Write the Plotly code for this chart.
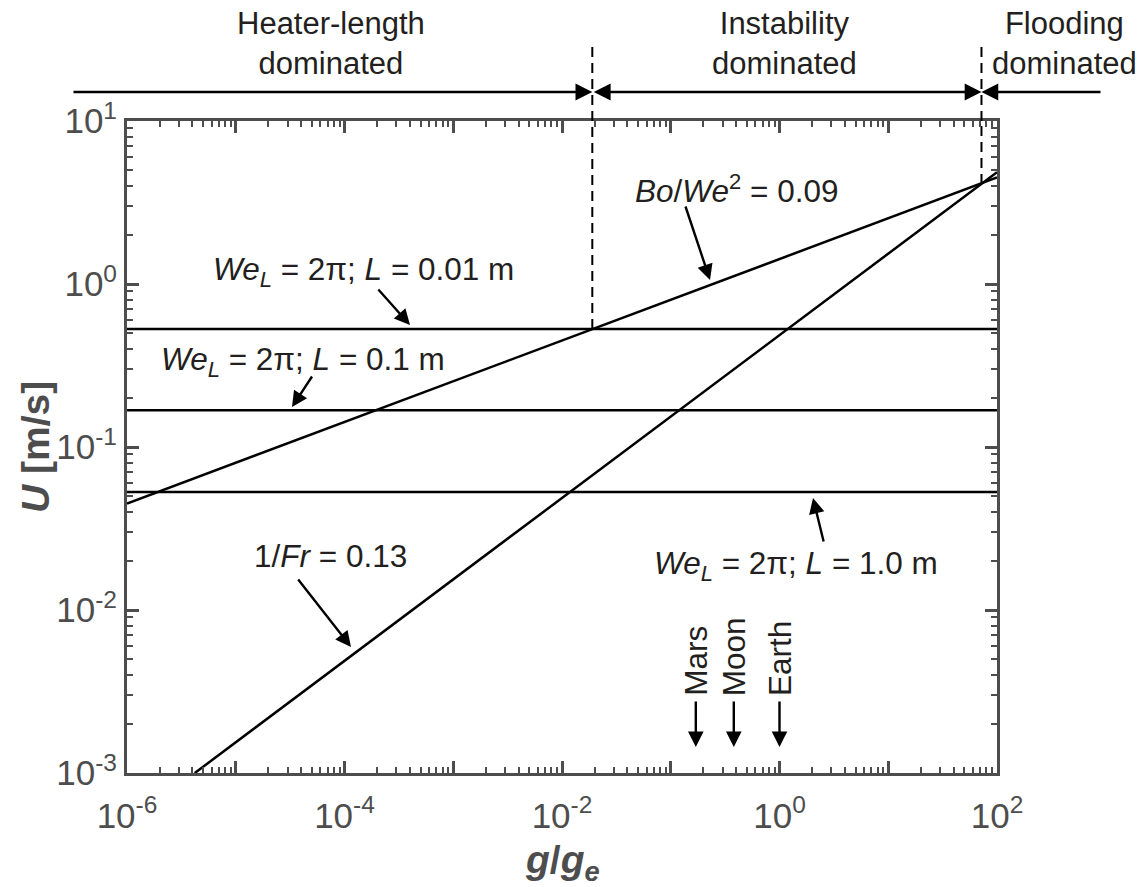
import numpy as np
import plotly.graph_objects as go

# ---------------- data ----------------
g_span = [1e-6, 1e2]                       # x extent of the horizontal lines
L_values = ["0.01", "0.1", "1.0"]           # heater length labels [m]
U_heater = [0.53, 0.168, 0.053]             # We_L = 2π lines, U [m/s]

bo_g = [1e-6, 1e2]                          # Bo/We^2 = 0.09 line
bo_U = [0.045, 4.5]

fr_g = [4.2e-6, 1e2]                        # 1/Fr = 0.13 line
fr_U = [1e-3, 4.85]

regime_g = [0.019, 72]                      # regime boundaries (dashed)
regime_U = [0.53, 4.1]                      # lower end of the dashed lines

body_names = ["Mars", "Moon", "Earth"]
body_g = [0.17, 0.38, 1.0]

x_tick_exp = [-6, -5, -4, -3, -2, -1, 0, 1, 2]
y_tick_exp = [-3, -2, -1, 0, 1]

# ---------------- style ----------------
AX = "#4d4d4d"
TXT = "#231f20"
FONT = "Liberation Sans, Arial, sans-serif"
W, H = 1142, 887
L_M, R_M, T_M, B_M = 127, 145, 121, 114
PW, PH = W - L_M - R_M, H - T_M - B_M


def px(x, y):
    """pixel position -> paper coordinates"""
    return (x - L_M) / PW, (H - B_M - y) / PH


fig = go.Figure()

line_style = dict(color="black", width=2.5)
for U in U_heater:
    fig.add_trace(go.Scatter(x=g_span, y=[U, U], mode="lines", line=line_style,
                             hoverinfo="skip", showlegend=False))
fig.add_trace(go.Scatter(x=bo_g, y=bo_U, mode="lines", line=line_style,
                         hoverinfo="skip", showlegend=False))
fig.add_trace(go.Scatter(x=fr_g, y=fr_U, mode="lines", line=line_style,
                         hoverinfo="skip", showlegend=False))

# dashed regime boundaries: inside the plot as traces, above it as shapes
for g, U in zip(regime_g, regime_U):
    fig.add_trace(go.Scatter(x=[g, g], y=[U, 10], mode="lines",
                             line=dict(color="black", width=2, dash="10px,6px"),
                             hoverinfo="skip", showlegend=False))
    fig.add_shape(type="line", xref="x", yref="paper", x0=g, x1=g,
                  y0=1, y1=px(0, 46)[1],
                  line=dict(color="black", width=2, dash="10px,6px"))

# ---------------- axes ----------------
x_minor = [k * 10.0 ** e for e in x_tick_exp[:-1] for k in range(2, 10)]
y_minor = [k * 10.0 ** e for e in y_tick_exp[:-1] for k in range(2, 10)]

axis_common = dict(
    type="log", showline=True, linewidth=3, linecolor=AX, mirror="ticks",
    ticks="inside", ticklen=12, tickwidth=2.5, tickcolor=AX,
    showgrid=False, zeroline=False,
    tickfont=dict(family=FONT, size=35, color=AX),
)

fig.update_xaxes(
    range=[-6, 2],
    tickmode="array",
    tickvals=[10.0 ** e for e in x_tick_exp],
    ticktext=[f"10<sup>{e}</sup>" if e % 2 == 0 else "" for e in x_tick_exp],
    minor=dict(tickmode="array", tickvals=x_minor, ticks="inside", ticklen=6,
               tickwidth=2, tickcolor=AX, showgrid=False),
    ticklabelstandoff=10,
    **axis_common,
)
fig.update_yaxes(
    range=[-3, 1],
    tickmode="array",
    tickvals=[10.0 ** e for e in y_tick_exp],
    ticktext=[f"10<sup>{e}</sup>" for e in y_tick_exp],
    minor=dict(tickmode="array", tickvals=y_minor, ticks="inside", ticklen=6,
               tickwidth=2, tickcolor=AX, showgrid=False),
    **axis_common,
)

ann = []
C = dict(xanchor="center", yanchor="middle")

# axis titles
x, y = px(35, 447)
ann.append(dict(xref="paper", yref="paper", x=x, y=y, showarrow=False,
                text="<b><i>U</i> [m/s]</b>", textangle=-90,
                font=dict(family=FONT, size=39, color=AX), **C))
x, y = px(562, 862)
ann.append(dict(xref="paper", yref="paper", x=x, y=y, showarrow=False,
                text="<b><i>g</i>/<i>g</i><sub><i>e</i></sub></b>",
                font=dict(family=FONT, size=39, color=AX), **C))

# regime headers
for cx, txt in [(331, "Heater-length<br>dominated"),
                (784, "Instability<br>dominated"),
                (1064, "Flooding<br>dominated")]:
    x, y = px(cx, 44)
    ann.append(dict(xref="paper", yref="paper", x=x, y=y, showarrow=False,
                    text=txt, font=dict(family=FONT, size=31, color=TXT), **C))

# regime arrows (top row)
y_arrow = px(0, 92)[1]
lg = [np.log10(v) for v in regime_g]
x_left_tail = (72 - L_M) / PW * 8 - 6
x_right_tail = (1102 - L_M) / PW * 8 - 6
arrow_common = dict(xref="x", yref="paper", axref="x", ayref="pixel", ay=0,
                    text="", showarrow=True, arrowhead=2, arrowsize=1.4,
                    arrowwidth=2.4, arrowcolor="black", standoff=0, startstandoff=0)
ann.append(dict(x=lg[0], y=y_arrow, ax=x_left_tail, **arrow_common))
ann.append(dict(x=lg[1], y=y_arrow, ax=lg[0], arrowside="end+start",
                startarrowhead=2, startarrowsize=1.4, **arrow_common))
ann.append(dict(x=lg[1], y=y_arrow, ax=x_right_tail, **arrow_common))

# curve labels
lab_font = dict(family=FONT, size=31.5, color=TXT)
labels = [
    (363, 271, f"<i>We</i><sub><i>L</i></sub> = 2π; <i>L</i> = {L_values[0]} m"),
    (303, 361, f"<i>We</i><sub><i>L</i></sub> = 2π; <i>L</i> = {L_values[1]} m"),
    (736, 189, "<i>Bo</i>/<i>We</i><sup>2</sup> = 0.09"),
    (330, 556, "1/<i>Fr</i> = 0.13"),
    (796, 565, f"<i>We</i><sub><i>L</i></sub> = 2π; <i>L</i> = {L_values[2]} m"),
]
for cx, cy, txt in labels:
    x, y = px(cx, cy)
    ann.append(dict(xref="paper", yref="paper", x=x, y=y, showarrow=False,
                    text=txt, font=lab_font, **C))

# label pointer arrows: (tail x, tail y, head x, head y) in pixels
pointers = [(377, 288, 410, 325), (313, 375, 292, 407), (685, 205, 710, 280),
            (297, 578, 351, 647), (824, 543, 813, 498)]
for tx, ty, hx, hy in pointers:
    x, y = px(hx, hy)
    ann.append(dict(xref="paper", yref="paper", x=x, y=y, ax=tx - hx, ay=ty - hy,
                    text="", showarrow=True, arrowhead=2, arrowsize=1.3,
                    arrowwidth=2.4, arrowcolor="black", standoff=0))

# planetary gravity markers
for name, g in zip(body_names, body_g):
    ann.append(dict(xref="x", yref="paper", x=np.log10(g), y=px(0, 747)[1],
                    ax=0, ay=-47, text="", showarrow=True, arrowhead=2,
                    arrowsize=1.3, arrowwidth=2.4, arrowcolor="black", standoff=0))
    ann.append(dict(xref="x", yref="paper", x=np.log10(g), y=px(0, 698)[1],
                    text=name, textangle=-90, showarrow=False,
                    xanchor="center", yanchor="bottom",
                    font=dict(family=FONT, size=31.5, color=TXT)))

fig.update_layout(
    width=W, height=H,
    margin=dict(l=L_M, r=R_M, t=T_M, b=B_M, autoexpand=False),
    paper_bgcolor="white", plot_bgcolor="white",
    annotations=ann, showlegend=False,
)

fig.write_html("out.html")
